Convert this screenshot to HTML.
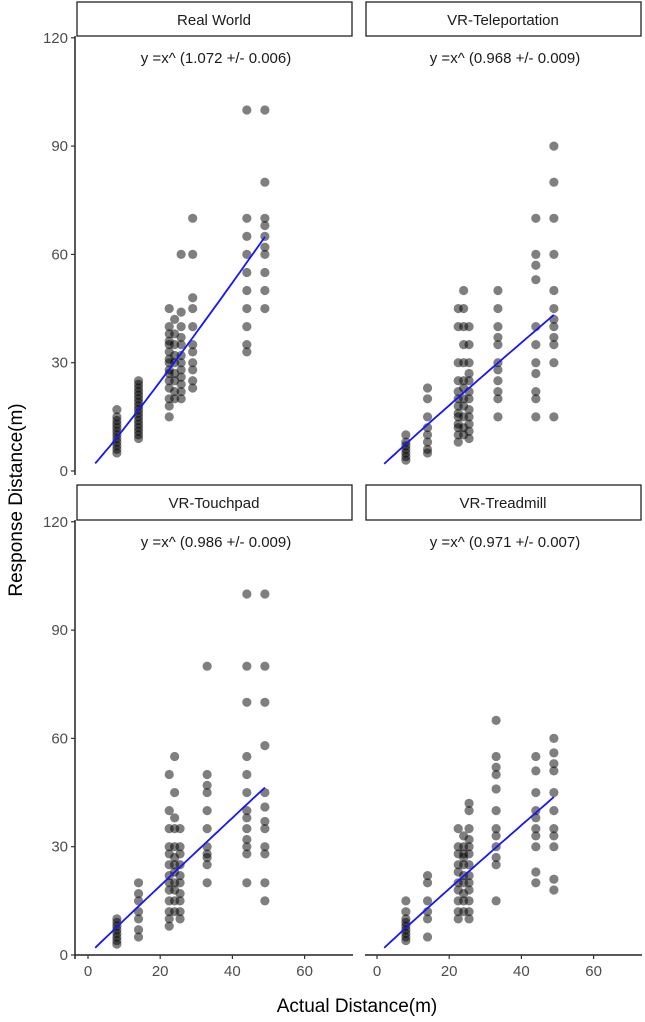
<!DOCTYPE html>
<html><head><meta charset="utf-8"><style>
body{margin:0;background:#fff;}
svg{display:block;font-family:"Liberation Sans",sans-serif;}
</style></head><body>
<svg id="chart" width="645" height="1022" viewBox="0 0 645 1022" xmlns="http://www.w3.org/2000/svg">
<text x="0" y="0" transform="translate(22,500) rotate(-90)" text-anchor="middle" font-size="19" fill="#000">Response Distance(m)</text>
<text x="357" y="1012" text-anchor="middle" font-size="19" fill="#000">Actual Distance(m)</text>
</svg>
<script>
const panelNames = ["Real World","VR-Teleportation","VR-Touchpad","VR-Treadmill"];
const equations = ["y =x^ (1.072 +/- 0.006)","y =x^ (0.968 +/- 0.009)","y =x^ (0.986 +/- 0.009)","y =x^ (0.971 +/- 0.007)"];
const exponents = [1.072, 0.968, 0.986, 0.971];
const yTicks = [0,30,60,90,120];
const xTicks = [0,20,40,60];
const columnX = [[8,14,22.5,24,25.8,29,44,49],[8,14,22.5,24,25.5,33.5,44,49],[8,14,22.5,24,25.5,33,44,49],[8,14,22.5,24,25.5,33,44,49]];
const realWorld = [
 [17,15,14,13,12,11,10,9,8,7,6,5],
 [25,24,23,22,21,20,19,18,17,16,15,14,13,12,11,10,9],
 [45,40,38,36,35,33,31,30,28,27,25,23,20,18,15],
 [42,38,35,32,30,27,25,22,20],
 [60,44,40,37,35,32,30,28,26,24,22,20],
 [70,60,48,45,40,35,33,30,28,25,23],
 [100,70,65,60,55,50,45,40,35,33],
 [100,80,70,68,65,62,60,55,50,45]];
const teleport = [
 [10,8,7,6,5,4,3],
 [23,20,15,12,10,8,6,5],
 [45,40,30,25,22,20,18,16,15,13,12,10,8],
 [50,45,40,35,30,25,23,20,18,15,12,10],
 [40,35,30,27,25,22,20,17,15,13,11,9],
 [50,45,40,37,35,30,28,25,22,20,15],
 [70,60,57,53,40,35,30,27,22,20,15],
 [90,80,70,60,50,45,42,40,37,35,30,15]];
const touchpad = [
 [10,9,8,7,6,5,4,3],
 [20,17,15,12,10,7,5],
 [50,40,35,30,28,25,22,20,18,15,12,10,8],
 [55,45,38,35,30,27,25,23,20,18,15,12],
 [35,30,28,25,22,20,17,15,12,10],
 [80,50,47,45,40,35,30,28,27,25,20],
 [100,80,70,55,50,45,40,38,35,32,30,28,20],
 [100,80,70,58,45,41,37,35,30,28,20,15]];
const treadmill = [
 [15,12,10,9,8,7,6,5,4],
 [22,20,15,12,10,5],
 [35,30,28,25,23,20,18,15,12,10],
 [33,30,28,27,25,22,20,17,15,12],
 [42,40,35,32,30,28,25,22,20,18,15,12,10],
 [65,55,52,50,46,40,35,33,30,27,25,15],
 [55,51,45,40,38,35,33,30,23,20],
 [60,56,53,51,45,40,35,33,30,21,18]];
const panelData = [realWorld, teleport, touchpad, treadmill];

const svg = document.getElementById('chart');
const NS = 'http://www.w3.org/2000/svg';
const S = 3.61;
const layout = [
 {axisX:75, x0:88, right:353, y0:471, top:36, stripTop:2, stripBot:36},
 {axisX:364, x0:377, right:642, y0:471, top:36, stripTop:2, stripBot:36},
 {axisX:75, x0:88, right:353, y0:955, top:520, stripTop:485, stripBot:520},
 {axisX:364, x0:377, right:642, y0:955, top:520, stripTop:485, stripBot:520}];
function mk(tag, attrs){const e=document.createElementNS(NS,tag);for(const k in attrs)e.setAttribute(k,attrs[k]);return e;}

panelData.forEach((cols,p)=>{
  const L = layout[p];
  const xs = v => L.x0 + v*S;
  const ys = v => L.y0 - v*S;
  const g = mk('g',{});
  
  
  svg.appendChild(g);
  const strip = mk('rect',{x:L.axisX+2,y:L.stripTop,width:L.right-L.axisX-3,height:L.stripBot-L.stripTop,fill:'#fff',stroke:'#222','stroke-width':1.3});
  
  
  g.appendChild(strip);
  const st = mk('text',{x:(L.axisX+L.right)/2,y:L.stripTop+23,'text-anchor':'middle','font-size':15,fill:'#1a1a1a'});
  st.textContent = panelNames[p];
  
  
  g.appendChild(st);
  const eq = mk('text',{x:(L.axisX+L.right)/2+2,y:L.top+27,'text-anchor':'middle','font-size':15,fill:'#1a1a1a'});
  eq.textContent = equations[p];
  
  
  g.appendChild(eq);
  if (p%2===0){
    const ya = mk('line',{x1:L.axisX,y1:L.top,x2:L.axisX,y2:L.y0+4,stroke:'#222','stroke-width':1.5});
    
    
    g.appendChild(ya);
    yTicks.forEach(t=>{
      const tk = mk('line',{x1:L.axisX-4,y1:ys(t),x2:L.axisX,y2:ys(t),stroke:'#333','stroke-width':1.2});
      
      
      g.appendChild(tk);
      const tl = mk('text',{x:L.axisX-7,y:ys(t)+5,'text-anchor':'end','font-size':15,fill:'#4d4d4d'});
      tl.textContent = t;
      
      
      g.appendChild(tl);
    });
  }
  if (p>=2){
    const xa = mk('line',{x1:(p%2===0?L.axisX:L.axisX+1),y1:L.y0,x2:L.right,y2:L.y0,stroke:'#222','stroke-width':1.5});
    
    
    g.appendChild(xa);
    xTicks.forEach(t=>{
      const tk = mk('line',{x1:xs(t),y1:L.y0,x2:xs(t),y2:L.y0+4,stroke:'#333','stroke-width':1.2});
      
      
      g.appendChild(tk);
      const tl = mk('text',{x:xs(t),y:L.y0+21,'text-anchor':'middle','font-size':15,fill:'#4d4d4d'});
      tl.textContent = t;
      
      
      g.appendChild(tl);
    });
  }
  cols.forEach((vals,c)=>{
    vals.forEach(v=>{
      const pt = mk('circle',{cx:xs(columnX[p][c]),cy:ys(v),r:4.6,fill:'#000','fill-opacity':0.5});
      
      
      g.appendChild(pt);
    });
  });
  let d='';
  for(let x=2;x<=49.01;x+=1){d += (d?'L':'M') + xs(x).toFixed(1)+','+ys(Math.pow(x,exponents[p])).toFixed(1);}
  const fit = mk('path',{d:d,fill:'none',stroke:'#1515ff','stroke-width':1.8});
  
  
  g.appendChild(fit);
});
</script>
</body></html>
